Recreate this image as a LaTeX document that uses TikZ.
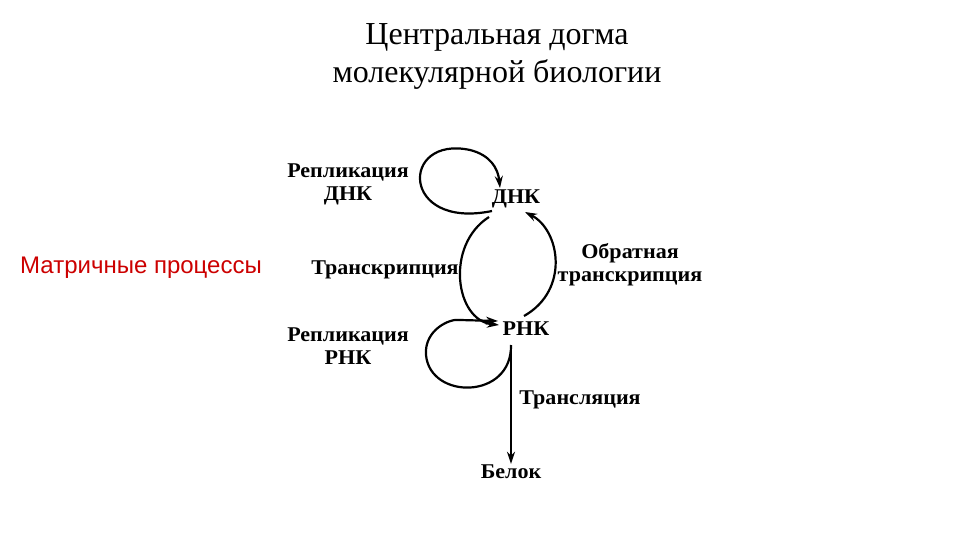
\documentclass[tikz,border=0pt]{standalone}
\usepackage{fontspec}
\setmainfont{Liberation Serif}
\newfontfamily\lsans{Liberation Sans}
\usetikzlibrary{arrows.meta}
\begin{document}
\begin{tikzpicture}[x=1pt,y=-1pt,
  lbl/.style={font=\fontsize{21}{23}\selectfont\bfseries, align=center, inner sep=1pt, xscale=1.05},
  arr/.style={line width=2.2pt, -{Stealth[length=12pt,width=8pt]}}]
\useasboundingbox (0,0) rectangle (960,540);
\node (t) at (497,56) [align=center,font=\fontsize{32}{38}\selectfont] {Центральная догма\\молекулярной биологии};
\node (m) at (141,268) [text=red!80!black,font=\lsans\fontsize{24}{26}\selectfont] {Матричные процессы};
\node[lbl] (dna) at (516,199) {ДНК};
\node[lbl] (rna) at (526,329) {РНК};
\node[lbl] (prot) at (511,472) {Белок};
\node[lbl] (l1) at (348,184) {Репликация\\ДНК};
\node[lbl] (l2) at (385,270) {Транскрипция};
\node[lbl] (l3) at (630,265) {Обратная\\транскрипция};
\node[lbl] (l4) at (348,346) {Репликация\\РНК};
\node[lbl] (l5) at (580,400) {Трансляция};
\coordinate (a1) at (492,211);
\coordinate (b1) at (500,188);
\draw[arr] (a1) .. controls (400,230) and (400,135) .. (470,150) .. controls (490,155) and (498,168) .. (b1);
\draw[arr] (489,217) .. controls (445,245) and (455,320) .. (499,325);
\draw[arr] (524,316) .. controls (570,290) and (560,230) .. (525,212);
\draw[line width=2.2pt] (511,345) .. controls (512,400) and (430,400) .. (426,355) .. controls (424,330) and (450,318) .. (460,320);
\draw[arr] (460,320) -- (498,321);
\draw[arr] (511,345) -- (prot.north);
\end{tikzpicture}
\end{document}
